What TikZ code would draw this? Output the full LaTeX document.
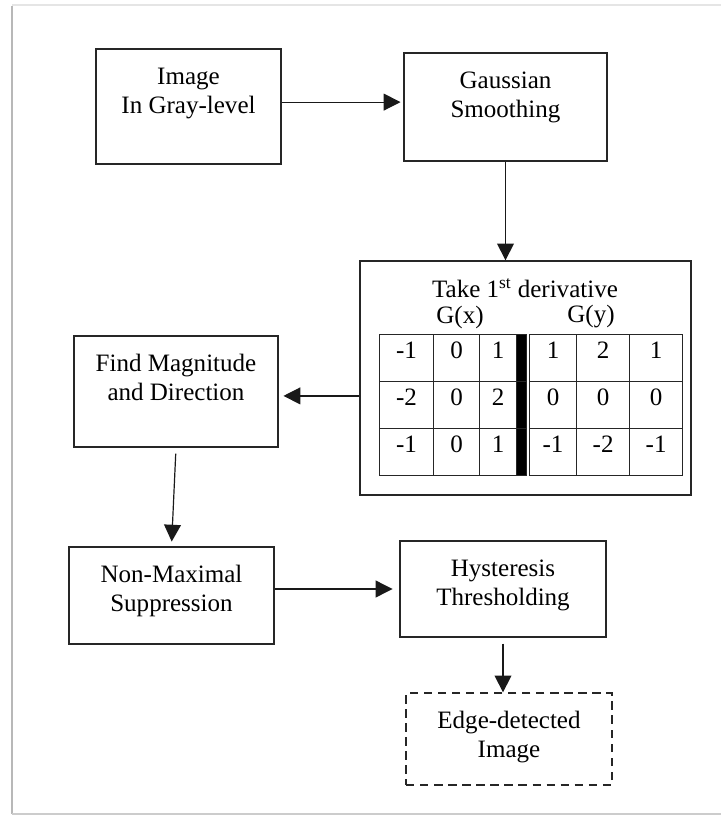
\documentclass[tikz,border=0pt]{standalone}
\usepackage{fontspec}
\setmainfont{Liberation Serif}
\usetikzlibrary{arrows.meta, positioning, matrix}

\newcommand{\boxfont}{\fontsize{17.8}{20.6}\selectfont}
\definecolor{frameleft}{gray}{0.72}
\definecolor{frametop}{gray}{0.9}
\definecolor{framebot}{gray}{0.8}

\begin{document}
\begin{tikzpicture}[x=0.025cm, y=-0.025cm,
        box/.style={rectangle, draw=black!85, line width=0.9pt, align=center, font=\boxfont, text height=1.175cm},
        cell/.style={rectangle, draw=black!85, line width=0.8pt, inner sep=0pt, font=\boxfont,
            minimum height=1.175cm, text height=0.45cm, text depth=0.425cm},
        arr/.style={draw=black!90, line width=0.85pt, -{Triangle[length=0.42cm, width=0.42cm]}}
    ]
        \useasboundingbox (0,0) rectangle (721,816);
        % page frame
        \draw[frameleft, line width=1.6pt] (12,814) -- (12,6);
        \draw[frametop, line width=1.2pt] (12,5) -- (721,5);
        \draw[framebot, line width=1.2pt] (12,814) -- (721,814);

        \node[box, minimum width=4.625cm, minimum height=2.875cm, text depth=0.85cm] (img) at (188.5,106.5) {Image\\In Gray-level};
        \node[box, minimum width=5.075cm, minimum height=2.7cm, text depth=0.675cm] (gauss) at (505.5,107) {Gaussian\\Smoothing};
        \node[box, minimum width=8.275cm, minimum height=5.85cm] (deriv) at (525.5,378) {};
        \node[font=\boxfont] (title) at (525,288) {Take 1\textsuperscript{st} derivative};
        \node[font=\boxfont] (gx) at (460,317) {G(x)};
        \node[font=\boxfont] (gy) at (591,317) {G(y)};
        \matrix (sobel) [matrix of nodes, nodes in empty cells, anchor=north west,
            column sep=-0.8pt, row sep=-0.8pt, nodes={cell},
            column 1/.style={nodes={minimum width=1.35cm}},
            column 2/.style={nodes={minimum width=1.15cm}},
            column 3/.style={nodes={minimum width=0.925cm}},
            column 4/.style={nodes={fill=black, minimum width=0.25cm}},
            column 5/.style={nodes={minimum width=1.175cm}},
            column 6/.style={nodes={minimum width=1.325cm}},
            column 7/.style={nodes={minimum width=1.325cm}}] at (374,329) {
            -1 & 0 & 1 & &[0.075cm] 1 & 2 & 1 \\
            -2 & 0 & 2 & &[0.075cm] 0 & 0 & 0 \\
            -1 & 0 & 1 & &[0.075cm] -1 & -2 & -1 \\
        };
        \node[box, minimum width=5.1cm, minimum height=2.775cm, text depth=0.75cm] (mag) at (176,391.5) {Find Magnitude\\and Direction};
        \node[box, minimum width=5.125cm, minimum height=2.425cm, text depth=0.4cm] (nonmax) at (171.5,595.5) {Non-Maximal\\Suppression};
        \node[box, minimum width=5.15cm, minimum height=2.4cm, text depth=0.375cm] (hyst) at (503,589) {Hysteresis\\Thresholding};
        \node[box, dashed, dash pattern=on 6pt off 4pt, minimum width=5.15cm, minimum height=2.3cm, text depth=0.275cm] (edge) at (509,739) {Edge-detected\\Image};

        \draw[arr, shorten >=0.07cm] ([yshift=0.11cm]img.east) -- ([yshift=0.11cm]img.east -| gauss.west);
        \draw[arr] (gauss.south) -- (gauss.south |- deriv.north);
        \draw[arr, shorten >=0.12cm] ([yshift=-0.11cm]deriv.west |- mag.east) -- ([yshift=-0.11cm]mag.east);
        \draw[arr, shorten <=0.15cm, shorten >=0.12cm] (mag.south) -- (nonmax.north);
        \draw[arr, shorten >=0.17cm] (nonmax.east |- hyst.west) -- (hyst.west);
        \draw[arr, shorten <=0.15cm] (hyst.south) -- (hyst.south |- edge.north);
    \end{tikzpicture}
\end{document}
